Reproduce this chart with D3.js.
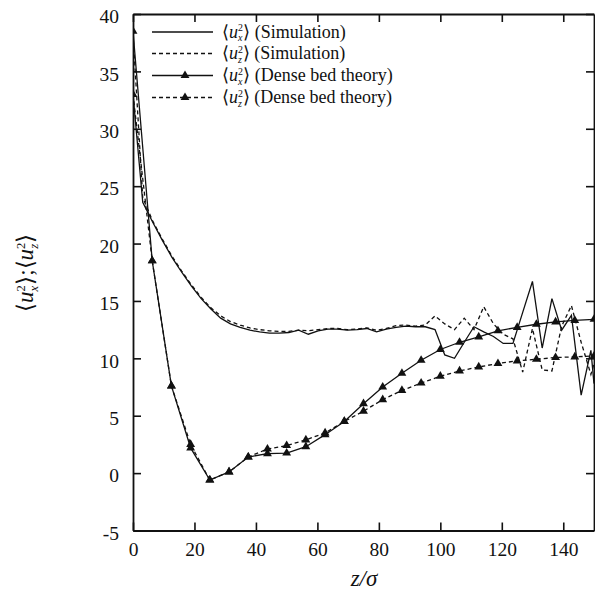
<!DOCTYPE html>
<html>
<head>
<meta charset="utf-8">
<script src="https://cdn.jsdelivr.net/npm/d3@7/dist/d3.min.js"></script>
<style>
  body { margin: 0; background: #fff; }
</style>
</head>
<body>
<div id="chart"></div>
<script>
// values
const simZ = [0, 3.17, 6.34, 9.51, 12.68, 15.85, 19.02, 22.19, 25.36, 28.53,
  31.7, 34.87, 38.04, 41.21, 44.38, 47.55, 50.72, 53.89, 57.06, 60.23,
  63.4, 66.57, 69.74, 72.91, 76.08, 79.25, 82.42, 85.59, 88.76, 91.93,
  95.1, 98.27, 101.44, 104.61, 107.78, 110.95, 114.12, 117.29, 120.46, 123.63,
  126.8, 129.97, 133.14, 136.31, 139.48, 142.65, 145.82, 148.99, 150];
const uxSim = [33.0, 23.6, 21.9, 20.3, 18.8, 17.5, 16.3, 15.2, 14.3, 13.5,
  13.0, 12.7, 12.45, 12.3, 12.2, 12.2, 12.25, 12.45, 12.1, 12.4,
  12.55, 12.55, 12.45, 12.5, 12.6, 12.3, 12.55, 12.7, 12.8, 12.75,
  12.75, 12.5, 10.3, 10.0, 11.4, 12.75, 12.3, 11.9, 11.3, 11.3,
  14.0, 16.7, 10.9, 15.2, 12.45, 13.75, 6.8, 10.7, 7.8];
const uzSim = [38.3, 24.0, 22.0, 20.4, 18.9, 17.6, 16.4, 15.3, 14.4, 13.7,
  13.2, 12.9, 12.65, 12.5, 12.4, 12.35, 12.35, 12.45, 12.4, 12.5,
  12.6, 12.6, 12.5, 12.55, 12.65, 12.45, 12.6, 12.85, 12.9, 12.8,
  12.9, 13.7, 13.0, 12.5, 13.5, 12.5, 14.5, 13.0, 12.1, 11.7,
  8.8, 12.6, 9.0, 8.9, 12.8, 14.6, 11.4, 8.6, 9.5];

const denseZ = [0, 6.25, 12.5, 18.75, 25, 31.25, 37.5, 43.75, 50, 56.25,
  62.5, 68.75, 75, 81.25, 87.5, 93.75, 100, 106.25, 112.5, 118.75,
  125, 131.25, 137.5, 143.75, 150];
const uxDense = [38.5, 18.5, 7.6, 2.2, -0.6, 0.1, 1.4, 1.7, 1.75, 2.3,
  3.35, 4.5, 6.05, 7.5, 8.7, 9.83, 10.77, 11.4, 11.87, 12.4,
  12.7, 12.97, 13.17, 13.3, 13.4];
const uzDense = [33.0, 18.5, 7.6, 2.5, -0.6, 0.1, 1.4, 2.1, 2.4, 2.9,
  3.5, 4.5, 5.4, 6.4, 7.2, 7.85, 8.44, 8.9, 9.25, 9.55,
  9.78, 9.92, 10.07, 10.13, 10.2];

const xTicks = [0, 20, 40, 60, 80, 100, 120, 140];
const yTicks = [-5, 0, 5, 10, 15, 20, 25, 30, 35, 40];

const legendSub = ["x", "z", "x", "z"];
const legendText = ["(Simulation)", "(Simulation)", "(Dense bed theory)", "(Dense bed theory)"];
const legendDash = [false, true, false, true];
const legendMark = [false, false, true, true];

const serif = '"Liberation Serif"';
const width = 595, height = 595;
const svg = d3.select("#chart").append("svg")
  .attr("width", width)
  .attr("height", height)
  .style("display", "block");

const x = d3.scaleLinear().domain([0, 150]).range([133, 594]);
const y = d3.scaleLinear().domain([-5, 40]).range([530.5, 14]);
const plotL = x.range()[0], plotR = x.range()[1];
const plotT = y.range()[1], plotB = y.range()[0];

// clip for data
svg.append("clipPath").attr("id", "plot-clip")
  .append("rect")
  .attr("x", plotL).attr("y", plotT)
  .attr("width", plotR - plotL).attr("height", plotB - plotT);

// axes (ticks point inward on all four sides)
const axisStyle = (g) => {
  g.selectAll(".domain").attr("stroke", "#111").attr("stroke-width", 1.8);
  g.selectAll(".tick line").attr("stroke", "#111").attr("stroke-width", 1.6);
  g.selectAll(".tick text").attr("fill", "#111").attr("font-size", 19.5);
};
const plain = (d) => String(d); // keep the hyphen-minus of the original

svg.append("g")
  .attr("transform", `translate(0,${plotB})`)
  .call(d3.axisBottom(x).tickValues(xTicks).tickFormat(plain).tickSizeInner(-8).tickSizeOuter(0).tickPadding(12))
  .call(axisStyle);

svg.append("g")
  .attr("transform", `translate(0,${plotT})`)
  .call(d3.axisTop(x).tickValues(xTicks).tickFormat("").tickSizeInner(-8).tickSizeOuter(0))
  .call(axisStyle);

svg.append("g")
  .attr("transform", `translate(${plotL},0)`)
  .call(d3.axisLeft(y).tickValues(yTicks).tickFormat(plain).tickSizeInner(-8).tickSizeOuter(0).tickPadding(14))
  .call(axisStyle)
  .selectAll(".tick text").attr("dy", "0.45em");

svg.append("g")
  .attr("transform", `translate(${plotR},0)`)
  .call(d3.axisRight(y).tickValues(yTicks).tickFormat("").tickSizeInner(-8).tickSizeOuter(0))
  .call(axisStyle);

// data lines
const plot = svg.append("g").attr("clip-path", "url(#plot-clip)");

const line = d3.line()
  .x((d) => x(d[0]))
  .y((d) => y(d[1]));

const series = [
  { z: simZ, v: uxSim, dash: null, mark: false },
  { z: simZ, v: uzSim, dash: "4,3", mark: false },
  { z: denseZ, v: uxDense, dash: null, mark: true },
  { z: denseZ, v: uzDense, dash: "4,3", mark: true },
];

const tri = d3.symbol().type(d3.symbolTriangle).size(34);

series.forEach((s) => {
  const pts = s.z.map((z, i) => [z, s.v[i]]);
  plot.append("path")
    .datum(pts)
    .attr("d", line)
    .attr("fill", "none")
    .attr("stroke", "#111")
    .attr("stroke-width", 1.3)
    .attr("stroke-dasharray", s.dash);
  if (s.mark) {
    plot.selectAll(null)
      .data(pts)
      .join("path")
      .attr("d", tri)
      .attr("transform", (d) => `translate(${x(d[0])},${y(d[1])})`)
      .attr("fill", "#111");
  }
});

// label with stacked super/subscript:  <u_s^2>
function addBracketU(text, sub, size) {
  text.append("tspan").text("\u27E8");
  text.append("tspan").attr("font-style", "italic").text("u");
  text.append("tspan").attr("font-size", size * 0.55).attr("dy", -size * 0.36).text("2");
  text.append("tspan").attr("font-size", size * 0.55).attr("font-style", "italic")
    .attr("dx", -size * 0.27).attr("dy", size * 0.58).text(sub);
  text.append("tspan").attr("dy", -size * 0.22).attr("dx", size * 0.04).text("\u27E9");
}

// legend
const legend = svg.append("g");
const rowY = [32, 53.5, 75.5, 97.5];
legendText.forEach((label, i) => {
  const yy = rowY[i];
  legend.append("line")
    .attr("x1", 152).attr("x2", 213)
    .attr("y1", yy).attr("y2", yy)
    .attr("stroke", "#111")
    .attr("stroke-width", 1.3)
    .attr("stroke-dasharray", legendDash[i] ? "4,3" : null);
  if (legendMark[i]) {
    legend.append("path")
      .attr("d", tri)
      .attr("transform", `translate(185,${yy})`)
      .attr("fill", "#111");
  }
  const t = legend.append("text")
    .attr("x", 222)
    .attr("y", yy + 5.5)
    .attr("font-size", 18)
    .attr("fill", "#111");
  addBracketU(t, legendSub[i], 18);
  t.append("tspan").text(" " + label);
});

// axis titles
svg.append("text")
  .attr("x", 364)
  .attr("y", 586)
  .attr("text-anchor", "middle")
  .attr("font-size", 23)
  .attr("font-style", "italic")
  .attr("fill", "#111")
  .text("z/\u03C3");

const yl = svg.append("text")
  .attr("transform", "translate(33,273) rotate(-90)")
  .attr("text-anchor", "middle")
  .attr("font-size", 23)
  .attr("fill", "#111");
addBracketU(yl, "x", 23);
yl.append("tspan").text(";");
addBracketU(yl, "z", 23);

// set the Times-like face on every text element directly
svg.selectAll("text").attr("font-family", serif);
</script>
</body>
</html>
